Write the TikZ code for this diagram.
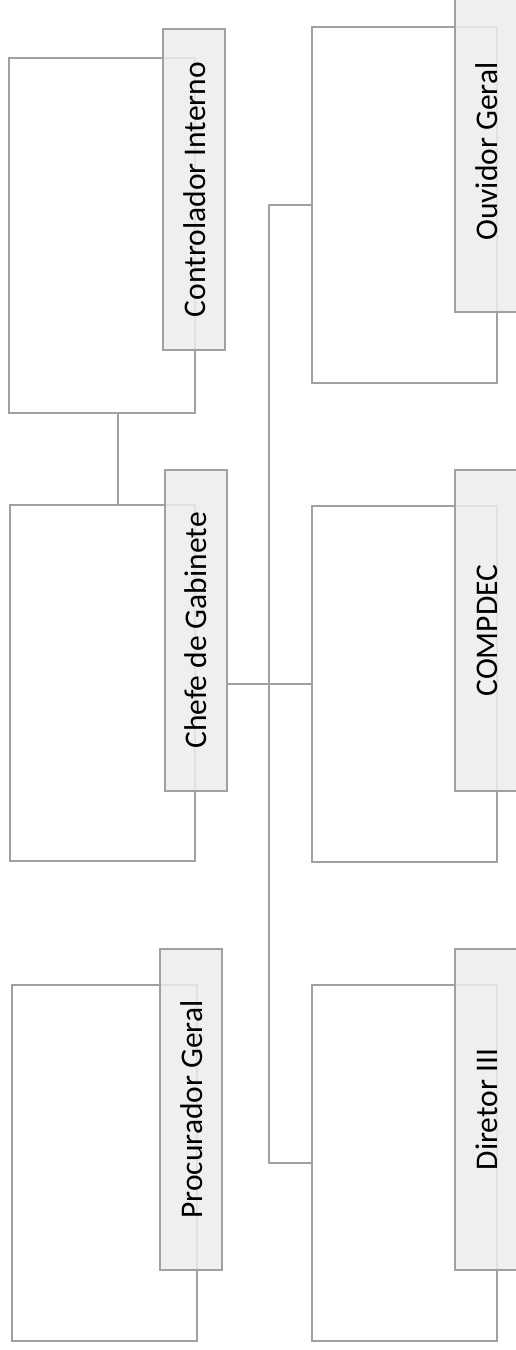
\documentclass[tikz,border=0pt]{standalone}
\usepackage{fontspec}
\setmainfont{Carlito}
\definecolor{ln}{HTML}{A0A0A0}
\definecolor{lf}{HTML}{EDEDED}
\newcommand\tagtext[1]{\rotatebox{90}{\raisebox{0pt}[24pt][2pt]{#1}}}
\begin{document}
\begin{tikzpicture}[x=1pt,y=-1pt,
  bigbox/.style={draw=ln, line width=2pt, fill=white, minimum width=185pt, minimum height=356pt, inner sep=0pt, outer sep=0pt},
  tag/.style={draw=ln, line width=2pt, fill=lf, fill opacity=0.85, text opacity=1, minimum width=62pt, minimum height=321pt, inner sep=0pt, outer sep=0pt, text=black, font=\fontsize{31.5}{36}\selectfont},
  conn/.style={draw=ln, line width=2pt}]
\useasboundingbox (0,0) rectangle (515,1350);
\fill[white] (0,0) rectangle (515,1350);
% big boxes
\node[bigbox, minimum width=186pt, minimum height=355pt] (ci) at (102,235.5) {};
\node[bigbox] (cg) at (102.5,683) {};
\node[bigbox] (pg) at (104.5,1163) {};
\node[bigbox] (og) at (404.5,205) {};
\node[bigbox] (cd) at (404.5,684) {};
\node[bigbox] (dr) at (404.5,1163) {};
% labels
\node[tag] (cil) at (194,189.5) {\tagtext{Controlador Interno}};
\node[tag] (cgl) at (195.5,630.5) {\tagtext{Chefe de Gabinete}};
\node[tag] (pgl) at (191,1109.5) {\tagtext{Procurador Geral}};
\node[tag] (ogl) at (486,151.5) {\tagtext{Ouvidor Geral}};
\node[tag] (cdl) at (486,630.5) {\tagtext{COMPDEC}};
\node[tag] (drl) at (486,1109.5) {\tagtext{Diretor III}};
% connectors
\coordinate (trk) at (269,0);
\coordinate (vx) at (118,0);
\draw[conn] (ci.south -| vx) -- (cg.north -| vx);
\draw[conn] (cgl.east |- cd.west) -- (cd.west);
\draw[conn] (og.west) -- (og.west -| trk) -- (dr.west -| trk) -- (dr.west);
\end{tikzpicture}
\end{document}
